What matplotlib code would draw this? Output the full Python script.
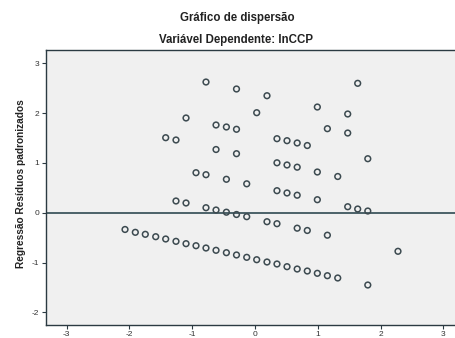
import matplotlib
matplotlib.use("Agg")
import matplotlib.pyplot as plt

plt.rcParams['font.family'] = ['Liberation Sans', 'DejaVu Sans']
plt.rcParams['axes.unicode_minus'] = False

# valores previstos padronizados (x) e residuos padronizados (y)
pred = [-0.781, -0.295, 1.636, 0.191, 0.993, 0.027, 1.477, -1.099, -0.621,
        -0.456, -0.295, 1.153, 1.477, -1.423, -1.259, 0.350, 0.510, 0.672,
        0.833, -0.621, -0.295, 1.797, 0.350, 0.510, 0.672, 0.993, 1.318,
        -0.940, -0.781, -0.456, -0.132, 0.350, 0.510, 0.672, 0.993, -1.259,
        -1.099, -0.781, -0.621, -0.456, -0.295, -0.132, 1.477, 1.636, 1.797,
        0.191, 0.350, 0.672, 0.833, 1.153, 2.278,
        -2.071, -1.907, -1.748, -1.582, -1.423, -1.259, -1.099, -0.940,
        -0.781, -0.621, -0.456, -0.295, -0.132, 0.027, 0.191, 0.350, 0.510,
        0.672, 0.833, 0.993, 1.153, 1.318, 1.797]
resid = [2.624, 2.484, 2.598, 2.349, 2.122, 2.008, 1.982, 1.902, 1.761,
         1.721, 1.675, 1.687, 1.600, 1.506, 1.460, 1.486, 1.446, 1.400,
         1.349, 1.269, 1.185, 1.084, 1.002, 0.958, 0.914, 0.817, 0.727,
         0.803, 0.763, 0.671, 0.580, 0.442, 0.396, 0.351, 0.261, 0.235,
         0.195, 0.100, 0.054, 0.010, -0.036, -0.080, 0.120, 0.074, 0.034,
         -0.181, -0.221, -0.311, -0.357, -0.452, -0.775,
         -0.337, -0.394, -0.434, -0.482, -0.528, -0.575, -0.622, -0.663,
         -0.709, -0.755, -0.803, -0.849, -0.896, -0.944, -0.990, -1.030,
         -1.084, -1.131, -1.171, -1.217, -1.265, -1.311, -1.452]

xticks = [-3, -2, -1, 0, 1, 2, 3]
yticks = [-2, -1, 0, 1, 2, 3]

fig = plt.figure(figsize=(4.55, 3.38), dpi=100)
fig.patch.set_facecolor('white')
ax = fig.add_axes([46 / 455, 13 / 338, 414 / 455, 275 / 338])
ax.set_facecolor('#f0f0f0')

ax.scatter(pred, resid, s=17, facecolors='none', edgecolors='#3c4a50',
           linewidths=1.1, zorder=3)
ax.axhline(0, color='#2f4a52', linewidth=1.2, zorder=2)

ax.set_xlim(-3.33, 3.266)
ax.set_ylim(-2.255, 3.267)
ax.set_xticks(xticks)
ax.set_yticks(yticks)
ax.tick_params(axis='both', direction='out', length=3, width=0.8,
               color='#2b3a42', labelsize=6, labelcolor='#333333', pad=2)
ax.tick_params(axis='x', pad=1.5)

for side in ['left', 'bottom', 'top']:
    ax.spines[side].set_color('#2b3a42')
    ax.spines[side].set_linewidth(1.0)
ax.spines['right'].set_visible(False)

ax.set_ylabel('Regressão Resíduos padronizados', fontsize=7.3, fontweight='bold',
              color='#222222', va='center')
ax.yaxis.set_label_coords((21 - 46) / 414, (325 - 183.5) / 275)

fig.text(237 / 455, 1 - 18 / 338, 'Gráfico de dispersão', ha='center',
         va='center', fontsize=8.3, fontweight='bold', color='#222222')
fig.text(236 / 455, 1 - 40 / 338, 'Variável Dependente: lnCCP', ha='center',
         va='center', fontsize=8.3, fontweight='bold', color='#222222')

fig.savefig('out.png', dpi=100)
